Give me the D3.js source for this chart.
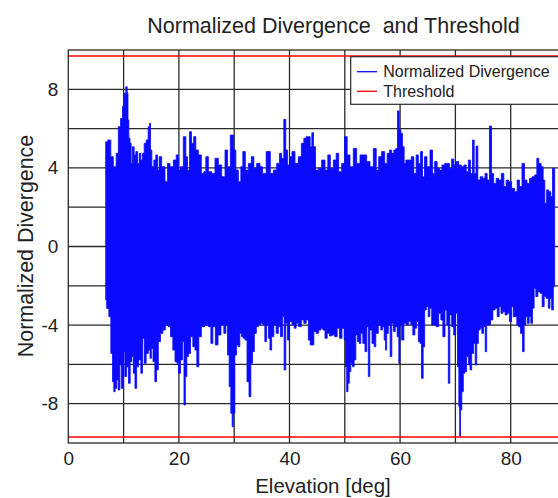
<!DOCTYPE html>
<html>
<head>
<meta charset="utf-8">
<script src="https://cdn.jsdelivr.net/npm/d3@7/dist/d3.min.js"></script>
<style>
  html, body { margin: 0; padding: 0; background: #fff; overflow: hidden; }
  svg { display: block; font-family: "Liberation Sans", Arial, Helvetica, sans-serif; }
  text { fill: #222; }
</style>
</head>
<body>
<svg id="chart" width="558" height="498"></svg>
<script>
// upper envelope of the normalized divergence
var elevTop = [6.76,7.54,7.84,8.44,8.87,9.23,9.65,9.95,10.25,10.56,10.74,10.86,11.04,11.28,11.46,11.76,12.06,12.36,12.66,12.97,
  13.27,13.57,13.87,14.29,14.59,14.77,14.96,15.26,15.68,15.98,16.28,16.58,17.18,17.79,18.09,18.69,19.30,19.72,20.08,20.50,
  21.10,21.40,21.71,22.13,22.43,22.91,23.21,23.82,24.30,24.72,25.02,25.63,26.23,26.83,27.43,28.04,28.64,28.94,29.66,30.15,
  30.45,31.05,31.35,31.77,32.26,32.86,33.34,33.76,34.36,34.97,35.27,36.29,36.77,37.38,37.98,38.40,38.76,39.18,39.48,39.79,
  40.21,40.69,41.29,41.90,42.38,42.80,43.22,43.59,43.89,44.19,44.49,44.91,45.52,46.12,46.72,47.14,47.63,48.23,48.65,49.13,
  49.73,50.22,50.64,51.24,51.84,52.45,53.05,53.65,54.25,54.86,55.46,55.90,56.36,56.97,57.45,57.87,58.29,58.66,59.08,59.38,
  59.68,59.98,60.28,60.58,60.89,61.19,61.79,62.27,62.69,63.12,63.48,63.90,64.20,64.62,65.10,65.71,66.01,66.49,66.91,67.33,
  67.82,68.30,68.72,69.14,69.50,69.93,70.35,70.83,71.31,71.74,72.16,72.52,72.94,73.24,73.55,73.91,74.21,74.75,75.17,75.53,
  75.96,76.38,76.68,77.16,77.58,78.06,78.55,78.97,79.39,79.87,80.47,80.96,81.38,81.80,82.28,82.70,83.19,83.61,84.09,84.57,
  84.87,85.29,85.72,86.02,86.32,86.68,87.10,87.41,87.71,87.95];
var divTop = [5.33,5.42,4.57,4.06,4.74,6.10,6.52,7.12,7.80,8.13,7.80,6.44,5.51,5.25,4.23,5.08,4.66,4.83,4.23,4.74,
  4.40,4.74,5.25,5.42,6.10,6.27,4.91,4.06,4.40,4.66,3.89,4.57,4.06,3.30,4.23,4.06,4.40,4.66,3.89,4.06,
  5.59,4.57,3.89,5.84,5.25,5.59,4.91,4.66,3.72,3.81,4.57,3.81,3.72,4.49,4.15,3.55,4.91,4.06,5.67,4.91,
  3.89,3.30,4.06,4.83,3.89,4.23,4.57,3.98,4.23,4.06,3.72,4.83,3.72,3.89,4.23,4.74,4.49,6.47,4.91,4.15,
  4.57,4.83,4.23,4.57,5.25,5.51,5.59,5.59,5.08,5.79,5.08,3.89,3.98,4.40,3.89,4.66,3.98,4.40,4.74,3.81,
  4.23,5.59,4.66,4.06,4.99,4.23,4.66,4.66,4.32,4.06,4.99,3.89,4.57,4.83,4.23,4.74,4.91,4.74,4.91,4.99,
  6.90,5.93,5.76,5.08,4.23,4.40,4.40,4.57,3.72,4.66,4.23,4.83,3.55,4.57,4.06,4.91,3.72,4.32,3.98,3.89,
  4.15,4.23,4.23,3.98,4.45,4.15,4.32,4.15,4.06,4.15,3.81,4.40,3.72,5.42,3.72,5.11,3.38,3.55,3.47,3.72,
  3.38,6.13,3.72,3.21,3.47,3.38,3.72,3.05,3.38,3.30,2.96,2.79,3.38,3.05,4.23,3.38,3.21,3.47,3.55,3.64,
  4.49,4.23,4.06,3.38,2.20,2.88,2.79,2.54,3.98,3.98];

// lower envelope
var elevBot = [6.76,7.12,7.54,7.84,8.14,8.32,8.63,8.87,9.17,9.47,9.71,10.07,10.37,10.74,11.04,11.34,11.64,11.88,12.24,12.48,
  12.97,13.27,13.57,13.87,14.29,14.65,14.90,15.14,15.50,15.80,16.10,16.46,16.89,17.31,17.79,18.27,18.69,19.11,19.48,19.78,
  20.08,20.50,20.80,21.04,21.28,21.59,21.89,22.31,22.73,23.09,23.39,23.82,24.30,25.02,25.63,25.93,26.35,26.83,27.31,27.91,
  28.34,28.64,28.94,29.24,29.54,29.72,29.96,30.27,30.57,30.87,31.17,31.47,31.77,32.13,32.50,32.86,33.16,33.46,33.82,34.18,
  34.55,34.97,35.39,35.69,35.99,36.35,36.59,36.96,37.38,37.80,38.16,38.58,38.88,39.18,39.48,39.79,40.21,40.69,40.99,41.41,
  41.90,42.38,42.80,43.22,43.59,43.89,44.19,44.61,45.03,45.52,45.82,46.24,46.60,47.02,47.45,47.93,48.41,48.83,49.25,49.73,
  50.04,50.22,50.46,50.70,50.94,51.24,51.54,51.84,52.15,52.45,52.75,53.05,53.47,53.83,54.13,54.37,54.68,55.16,55.46,55.76,
  56.36,56.67,56.97,57.27,57.45,57.69,58.05,58.35,58.66,58.96,59.26,59.68,59.86,60.10,60.46,60.89,61.31,61.79,62.09,62.51,
  62.82,63.12,63.48,63.72,64.02,64.32,64.56,64.93,65.23,65.53,65.89,66.31,66.73,67.22,67.52,67.94,68.30,68.60,68.84,69.14,
  69.50,69.87,70.23,70.53,70.71,70.83,71.01,71.31,71.56,71.86,72.16,72.52,72.76,73.12,73.43,73.73,73.97,74.33,74.63,74.93,
  75.24,75.54,75.78,76.14,76.56,76.99,77.35,77.77,78.06,78.43,78.79,79.15,79.57,79.99,80.30,80.60,80.96,81.26,81.56,81.98,
  82.28,82.59,82.89,83.19,83.49,83.79,84.09,84.39,84.70,85.12,85.48,85.90,86.20,86.62,86.98,87.22,87.59,87.83,87.95];
var divBot = [-2.72,-3.15,-3.57,-5.44,-6.88,-7.39,-7.22,-6.79,-7.30,-6.03,-7.22,-5.35,-6.62,-6.12,-6.96,-5.86,-5.60,-6.45,-7.22,-6.12,
  -5.77,-6.45,-4.67,-5.94,-5.44,-5.27,-5.69,-5.18,-5.86,-6.88,-6.28,-4.84,-4.42,-4.25,-4.00,-4.08,-4.59,-5.27,-5.86,-5.94,
  -6.45,-5.77,-4.84,-8.07,-6.62,-5.60,-5.44,-4.59,-5.10,-5.27,-6.12,-4.59,-4.08,-4.00,-4.08,-4.93,-4.08,-5.01,-4.50,-3.99,
  -4.42,-3.99,-5.52,-7.13,-8.49,-9.17,-8.49,-5.52,-5.01,-5.10,-4.42,-4.59,-4.67,-4.76,-6.88,-7.64,-5.94,-5.35,-4.42,-4.08,
  -3.99,-3.91,-3.99,-4.84,-3.99,-4.67,-5.27,-4.59,-3.99,-4.42,-4.08,-4.59,-3.57,-6.28,-3.91,-4.76,-3.82,-3.99,-4.16,-3.91,
  -4.08,-3.74,-3.91,-3.74,-4.76,-5.01,-5.01,-4.33,-4.42,-4.25,-4.16,-4.25,-4.67,-4.42,-4.55,-4.50,-4.59,-4.16,-4.67,-4.16,
  -4.76,-6.12,-7.39,-6.96,-6.37,-5.94,-6.12,-5.77,-4.50,-4.84,-4.93,-4.42,-4.93,-5.35,-4.08,-6.62,-4.25,-4.93,-5.10,-4.42,
  -3.99,-4.25,-4.08,-4.76,-5.27,-4.42,-3.99,-5.60,-3.91,-4.33,-4.08,-4.59,-5.94,-3.99,-4.76,-3.91,-3.99,-3.82,-3.99,-4.50,
  -4.16,-3.82,-4.84,-4.93,-6.71,-5.10,-3.23,-3.06,-3.57,-3.14,-3.99,-3.99,-4.08,-3.40,-3.74,-4.59,-3.23,-3.99,-6.96,-3.48,
  -4.08,-4.50,-3.40,-6.12,-8.15,-9.65,-8.32,-7.39,-6.45,-6.37,-5.60,-6.03,-6.28,-5.44,-4.93,-6.03,-4.93,-4.25,-4.16,-4.42,
  -4.08,-5.35,-3.99,-3.99,-3.74,-3.23,-3.14,-3.57,-3.06,-3.40,-3.31,-3.48,-3.40,-3.82,-3.06,-3.57,-3.57,-3.99,-4.08,-4.42,
  -5.35,-3.99,-3.57,-3.91,-3.57,-3.91,-3.14,-2.13,-2.55,-2.30,-2.38,-3.06,-2.55,-2.64,-3.14,-2.64,-3.23,-2.04,-2.04];

var threshold = 9.7;
var xTicks = [0, 20, 40, 60, 80];
var yTicks = [-8, -4, 0, 4, 8];
var xGrid = [10, 20, 30, 40, 50, 60, 70, 80];
var yGrid = [-8, -6, -4, -2, 0, 2, 4, 6, 8];
var legendLabels = ["Normalized Divergence", "Threshold"];
var legendColors = ["#0a0aff", "#ff0000"];

var plotLeft = 68.3, plotRight = 566, plotTop = 50, plotBottom = 443;

var svg = d3.select("#chart");
var x = d3.scaleLinear().domain([0, 90]).range([plotLeft, plotRight]);
var y = d3.scaleLinear().domain([-10, 10]).range([plotBottom, plotTop]);

svg.append("rect").attr("width", 558).attr("height", 498).attr("fill", "#fff");

svg.append("defs").append("clipPath").attr("id", "plotclip")
  .append("rect").attr("x", plotLeft).attr("y", plotTop)
  .attr("width", plotRight - plotLeft).attr("height", plotBottom - plotTop);

// grid
var grid = svg.append("g").attr("stroke", "#2a2a2a").attr("stroke-width", 1.3);
grid.selectAll("line.v").data(xGrid).enter().append("line").attr("class", "v")
  .attr("x1", function(d) { return x(d); }).attr("x2", function(d) { return x(d); })
  .attr("y1", plotTop).attr("y2", plotBottom);
grid.selectAll("line.h").data(yGrid).enter().append("line").attr("class", "h")
  .attr("x1", plotLeft).attr("x2", plotRight)
  .attr("y1", function(d) { return y(d); }).attr("y2", function(d) { return y(d); });

// signal: upper envelope left to right, then lower envelope back
var pts = [];
for (var i = 0; i < elevTop.length; i++) pts.push([elevTop[i], divTop[i]]);
for (var j = elevBot.length - 1; j >= 0; j--) pts.push([elevBot[j], divBot[j]]);

var line = d3.line()
  .x(function(d) { return x(d[0]); })
  .y(function(d) { return y(d[1]); })
  .curve(d3.curveStep);

svg.append("path")
  .attr("clip-path", "url(#plotclip)")
  .attr("d", line(pts) + "Z")
  .attr("fill", "#0a0aff")
  .attr("stroke", "#0a0aff")
  .attr("stroke-width", 0.8);

// threshold lines
svg.selectAll("line.thr").data([threshold, -threshold]).enter().append("line")
  .attr("class", "thr")
  .attr("x1", plotLeft).attr("x2", plotRight)
  .attr("y1", function(d) { return y(d); }).attr("y2", function(d) { return y(d); })
  .attr("stroke", "#ff0000").attr("stroke-width", 1.5);

// axes box
svg.append("rect").attr("x", plotLeft).attr("y", plotTop)
  .attr("width", plotRight - plotLeft).attr("height", plotBottom - plotTop)
  .attr("fill", "none").attr("stroke", "#2a2a2a").attr("stroke-width", 1.3);

// tick labels
var xAxis = svg.append("g").attr("transform", "translate(0," + plotBottom + ")")
  .call(d3.axisBottom(x).tickValues(xTicks).tickSize(0).tickPadding(9).tickFormat(d3.format("d")));
var yAxis = svg.append("g").attr("transform", "translate(" + plotLeft + ",0)")
  .call(d3.axisLeft(y).tickValues(yTicks).tickSize(0).tickPadding(10).tickFormat(function(d) { return d < 0 ? "-" + (-d) : d; }));
[xAxis, yAxis].forEach(function(a) {
  a.select(".domain").remove();
  a.selectAll("text").attr("fill", "#222")
    .style("font-size", "19px").style("font-family", "'Liberation Sans', Arial, sans-serif");
});

// titles
svg.append("text").attr("x", 333.5).attr("y", 32.7).attr("text-anchor", "middle")
  .style("font-size", "21.5px").style("white-space", "pre")
  .text("Normalized Divergence  and Threshold");
svg.append("text").attr("x", 323).attr("y", 493).attr("text-anchor", "middle")
  .style("font-size", "20.5px").text("Elevation [deg]");
svg.append("text").attr("transform", "translate(33,246) rotate(-90)")
  .attr("text-anchor", "middle").style("font-size", "21.4px").text("Normalized Divergence");

// legend
var lg = svg.append("g");
lg.append("rect").attr("x", 350.7).attr("y", 56.7).attr("width", 260).attr("height", 47.6)
  .attr("fill", "#fff").attr("stroke", "#2a2a2a").attr("stroke-width", 1.2);
legendLabels.forEach(function(lbl, k) {
  var ly = 71.7 + k * 19.6;
  lg.append("line").attr("x1", 357).attr("x2", 377).attr("y1", ly).attr("y2", ly)
    .attr("stroke", legendColors[k]).attr("stroke-width", 1.3);
  lg.append("text").attr("x", 383.3).attr("y", ly + 5.4).style("font-size", "16px").text(lbl);
});
</script>
</body>
</html>
